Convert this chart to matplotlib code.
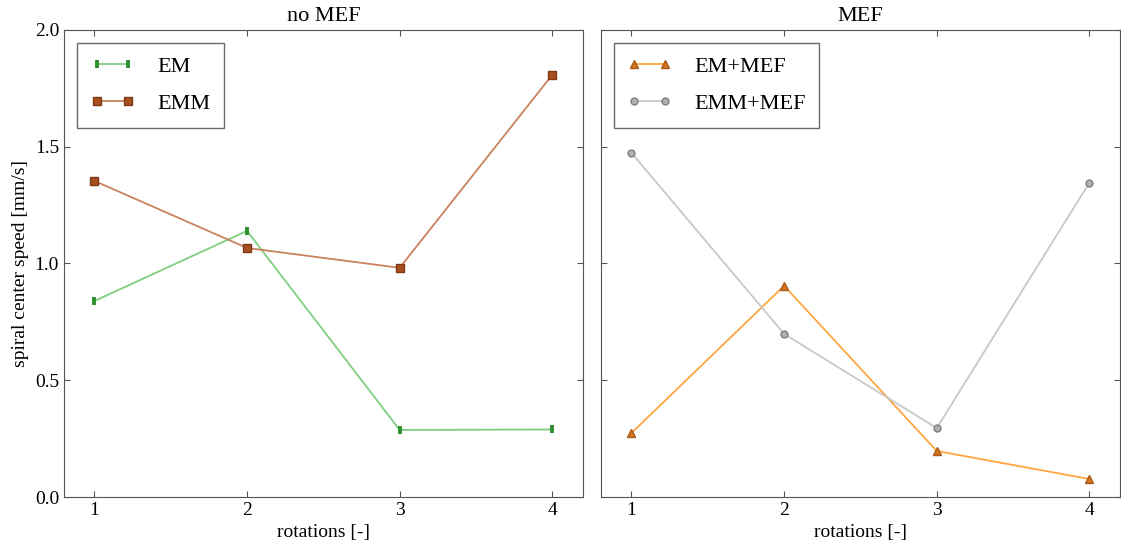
import matplotlib
matplotlib.use("Agg")
import matplotlib.pyplot as plt
import numpy as np

plt.rcParams['font.family'] = ['Liberation Serif', 'DejaVu Serif']
plt.rcParams['xtick.direction'] = 'in'
plt.rcParams['ytick.direction'] = 'in'

rotations = [1, 2, 3, 4]
em = [0.839, 1.139, 0.287, 0.289]
emm = [1.353, 1.066, 0.981, 1.807]
em_mef = [0.274, 0.904, 0.197, 0.077]
emm_mef = [1.473, 0.698, 0.295, 1.345]

fig, (ax1, ax2) = plt.subplots(1, 2, figsize=(11.21, 5.51), dpi=100, sharey=True)
fig.subplots_adjust(left=0.057, right=0.999, bottom=0.098, top=0.946, wspace=0.035)

ax1.plot(rotations, em, color='#7fcf7f', lw=1.3, marker='|', ms=6, mew=2.8,
         mec='#2f8f2f', label='EM')
ax1.plot(rotations, emm, color='#c8825c', lw=1.3, marker='s', ms=5.5,
         mfc='#a8501f', mec='#7a3a15', label='EMM')
ax1.set_title('no MEF', fontsize=16)

ax2.plot(rotations, em_mef, color='#ffa640', lw=1.3, marker='^', ms=5.5,
         mfc='#d9731f', mec='#a85a18', label='EM+MEF')
ax2.plot(rotations, emm_mef, color='#c8c8c8', lw=1.3, marker='o', ms=5,
         mfc='#b0b0b0', mec='#808080', label='EMM+MEF')
ax2.set_title('MEF', fontsize=16)

for ax in (ax1, ax2):
    ax.set_xlim(0.8, 4.2)
    ax.set_ylim(0, 2.0)
    ax.set_xticks(rotations)
    ax.set_yticks(np.arange(0, 2.01, 0.5))
    ax.set_xlabel('rotations [-]', fontsize=14)
    ax.tick_params(labelsize=14, top=True, right=True, length=4, color='#555555')
    leg = ax.legend(loc='upper left', fontsize=16, fancybox=False, numpoints=2,
                    edgecolor='#444444', borderpad=0.6, handlelength=2.0,
                    handletextpad=1.0, labelspacing=0.75, borderaxespad=0.6)
    leg.get_frame().set_linewidth(1.0)
    for s in ax.spines.values():
        s.set_color('#555555')

ax2.tick_params(labelleft=False)
ax1.set_ylabel('spiral center speed [mm/s]', fontsize=14)

fig.savefig('out.png')
